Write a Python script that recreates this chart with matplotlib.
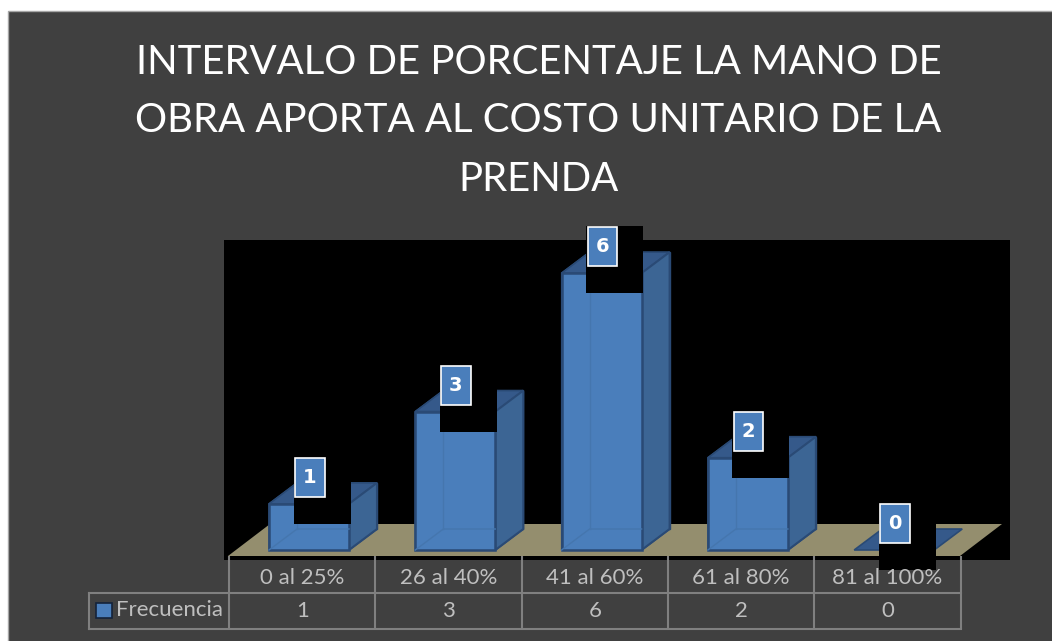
import matplotlib
matplotlib.use('Agg')
import matplotlib.pyplot as plt
from matplotlib.patches import Polygon, Rectangle

plt.rcParams['font.family'] = ['Lato', 'DejaVu Sans']

categorias = ['0 al 25%', '26 al 40%', '41 al 60%', '61 al 80%', '81 al 100%']
frecuencia = [1, 3, 6, 2, 0]
serie = 'Frecuencia'
titulo = 'INTERVALO DE PORCENTAJE LA MANO DE\nOBRA APORTA AL COSTO UNITARIO DE LA\nPRENDA'

W, H = 1052, 641
fondo = '#404040'
frente = '#4a7ebb'
lateral = '#3c6594'
tapa = '#35598a'
borde = '#2a4a75'
rejilla = '#808080'
texto = '#bfbfbf'

fig = plt.figure(figsize=(W / 100, H / 100), dpi=100, facecolor='white')

# capa de fondo en pixeles
bg = fig.add_axes([0, 0, 1, 1], zorder=0)
bg.set_xlim(0, W)
bg.set_ylim(H, 0)
bg.axis('off')
bg.add_patch(Rectangle((8, 11), W, H, fc=fondo, ec='#a6a6a6', lw=1))
bg.add_patch(Rectangle((224, 240), 786, 320, fc='black', ec='none'))
bg.add_patch(Polygon([(228, 556), (270, 524), (1002, 524), (960, 556)], fc='#948e6e', ec='none'))
bg.text(538.5, 121, titulo, color='white', fontsize=28.9, ha='center', va='center', linespacing=1.72)

# ejes de las barras: x = categoria, y = frecuencia
px_x, px_y = 146.3, 46.15
x0, y0 = 309, 550
ax = fig.add_axes([224 / W, 1 - 560 / H, 786 / W, 320 / H], zorder=1)
ax.set_xlim((224 - x0) / px_x, (1010 - x0) / px_x)
ax.set_ylim(-(560 - y0) / px_y, (y0 - 240) / px_y)
ax.axis('off')

ancho = 80 / px_x
dx, dy = 28 / px_x, 21 / px_y
caja_w, caja_h = 29.5 / px_x, 39 / px_y
negro_w, negro_h = 57 / px_x, 67 / px_y

for i, v in enumerate(frecuencia):
    l, r = i - ancho / 2, i + ancho / 2
    # piso y cara trasera
    ax.add_patch(Polygon([(l, 0), (r, 0), (r + dx, dy), (l + dx, dy)], fc=tapa if v == 0 else frente, ec=borde, lw=1.2, zorder=2))
    if v > 0:
        ax.add_patch(Polygon([(l + dx, dy), (r + dx, dy), (r + dx, v + dy), (l + dx, v + dy)], fc=frente, ec=borde, lw=1, zorder=2))
        ax.add_patch(Polygon([(l, 0), (l + dx, dy), (l + dx, v + dy), (l, v)], fc=frente, ec=borde, lw=1, zorder=2))
        ax.add_patch(Polygon([(l, v), (r, v), (r + dx, v + dy), (l + dx, v + dy)], fc=tapa, ec=borde, lw=1.2, zorder=3))
        ax.add_patch(Polygon([(r, 0), (r + dx, dy), (r + dx, v + dy), (r, v)], fc=lateral, ec=borde, lw=1.5, zorder=3))
        ax.add_patch(Rectangle((l, 0), ancho, v, fc=frente, ec=borde, lw=1.8, zorder=4))
        # lineas interiores vistas a traves de la cara frontal
        ax.plot([l, l + dx, r], [0, dy, dy], color='#4576ae', lw=1, zorder=5)
        ax.plot([l + dx, l + dx], [dy, v], color='#4576ae', lw=1, zorder=5)
    # etiqueta de datos con su fondo negro
    izq = i - 15.5 / px_x
    top = v + 47 / px_y
    ax.add_patch(Rectangle((izq, top - negro_h), negro_w, negro_h, fc='black', ec='none', zorder=6, clip_on=False))
    ax.add_patch(Rectangle((i - 14 / px_x, top - caja_h - 1 / px_y), caja_w, caja_h, fc=frente, ec='white', lw=1.2, zorder=7, clip_on=False))
    ax.text(i + 0.5 / px_x, top - caja_h / 2 - 1 / px_y, str(v), color='white', fontsize=14, fontweight='bold', family='DejaVu Sans',
            ha='center', va='center', zorder=8)

# tabla de datos
tb = fig.add_axes([0, 0, 1, 1], zorder=2)
tb.set_xlim(0, W)
tb.set_ylim(H, 0)
tb.axis('off')
tb.patch.set_alpha(0)
bordes = [x0 - 80 + px_x * i for i in range(len(categorias) + 1)]
for xb in bordes:
    tb.plot([xb, xb], [556, 629], color=rejilla, lw=1.5, solid_capstyle='butt')
tb.plot([89, bordes[-1]], [593, 593], color=rejilla, lw=1.5)
tb.plot([89, bordes[-1]], [629, 629], color=rejilla, lw=1.5)
tb.plot([89, 89], [593, 629], color=rejilla, lw=1.5)
for i, (c, v) in enumerate(zip(categorias, frecuencia)):
    xc = (bordes[i] + bordes[i + 1]) / 2
    tb.text(xc, 577.5, c, color=texto, fontsize=16, ha='center', va='center')
    tb.text(xc, 611, str(v), color=texto, fontsize=16, ha='center', va='center')
tb.add_patch(Rectangle((96, 603), 16, 15, fc=frente, ec='#14233a', lw=1.2))
tb.text(116, 610, serie, color=texto, fontsize=16, ha='left', va='center')

fig.savefig('out.png', dpi=100, facecolor='white')
